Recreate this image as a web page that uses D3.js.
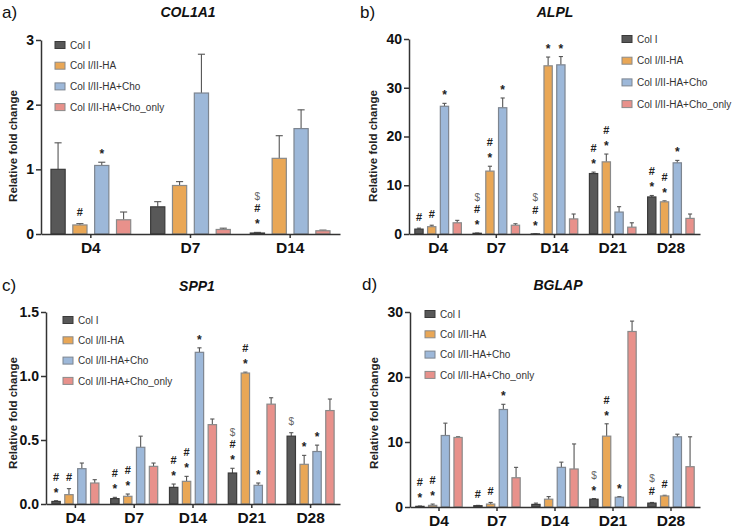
<html>
<head>
	<title>Gene expression</title>
	<meta charset="utf-8">
	<script src="https://d3js.org/d3.v7.min.js"></script>
	<style>
		body { margin: 0; background: #fff; }
		text { font-family: "Liberation Sans", Arial, sans-serif; }
	</style>
</head>
<body>
	<script type="text/javascript">
		var width = 735
		var height = 529

		// groups and colours
		var groups = ["Col I", "Col I/II-HA", "Col I/II-HA+Cho", "Col I/II-HA+Cho_only"]
		var fills = ["#585858", "#E9A756", "#9DB8D9", "#E8918B"]
		var strokes = ["#3a3a3a", "#8a8a8a", "#7d8590", "#8a8a8a"]

		var days3 = ["D4", "D7", "D14"]
		var days5 = ["D4", "D7", "D14", "D21", "D28"]

		// a) COL1A1  (one row per group, one value per day)
		var col1a1Mean = [[1.00, 0.42, 0.015], [0.14, 0.75, 1.17], [1.06, 2.18, 1.63], [0.22, 0.07, 0.05]]
		var col1a1Err  = [[0.41, 0.08, 0.01], [0.02, 0.06, 0.35], [0.05, 0.60, 0.29], [0.12, 0.02, 0.01]]
		var col1a1Ticks = [0, 1, 2, 3]
		var col1a1Notes = [[0, 1, "#"], [0, 2, "*"], [2, 0, "*#$"]]

		// b) ALPL
		var alplMean = [[1.0, 0.15, 0.02, 12.4, 7.6], [1.5, 12.9, 34.5, 14.8, 6.6], [26.2, 25.9, 34.7, 4.5, 14.6], [2.3, 1.8, 3.1, 1.4, 3.2]]
		var alplErr  = [[0.2, 0.05, 0.0, 0.3, 0.3], [0.3, 1.0, 1.8, 1.6, 0.2], [0.6, 2.0, 1.7, 1.1, 0.5], [0.5, 0.3, 1.0, 0.9, 0.9]]
		var alplTicks = [0, 10, 20, 30, 40]
		var alplNotes = [[0, 0, "#"], [0, 1, "#"], [0, 2, "*"], [1, 0, "*#$"], [1, 1, "*#"], [1, 2, "*"],
			[2, 0, "*#$"], [2, 1, "*"], [2, 2, "*"], [3, 0, "*#"], [3, 1, "*#"], [4, 0, "*#"], [4, 1, "*#"], [4, 2, "*"]]

		// c) SPP1
		var spp1Mean = [[0.02, 0.042, 0.13, 0.242, 0.53], [0.073, 0.06, 0.177, 1.023, 0.31], [0.276, 0.443, 1.185, 0.146, 0.41], [0.164, 0.294, 0.62, 0.78, 0.73]]
		var spp1Err  = [[0.006, 0.01, 0.026, 0.037, 0.027], [0.047, 0.018, 0.039, 0.007, 0.07], [0.044, 0.087, 0.035, 0.018, 0.05], [0.026, 0.026, 0.044, 0.05, 0.09]]
		var spp1Ticks = [0, 0.5, 1.0, 1.5]
		var spp1Notes = [[0, 0, "*#"], [0, 1, "#"], [1, 0, "*#"], [1, 1, "*#"], [2, 0, "*#"], [2, 1, "*#"], [2, 2, "*"],
			[3, 0, "*#$"], [3, 1, "*#"], [3, 2, "*"], [4, 0, "$"], [4, 1, "*"], [4, 2, "*"]]

		// d) BGLAP
		var bglapMean = [[0.1, 0.2, 0.4, 1.2, 0.6], [0.25, 0.45, 1.2, 10.9, 1.7], [11.0, 15.0, 6.1, 1.5, 10.8], [10.7, 4.5, 5.85, 27.0, 6.2]]
		var bglapErr  = [[0.05, 0.05, 0.2, 0.1, 0.1], [0.2, 0.25, 0.4, 1.9, 0.1], [1.9, 0.8, 0.8, 0.1, 0.4], [0.1, 1.6, 3.85, 1.6, 4.6]]
		var bglapTicks = [0, 10, 20, 30]
		var bglapNotes = [[0, 0, "*#"], [0, 1, "*#"], [1, 0, "#"], [1, 1, "#"], [1, 2, "*"],
			[3, 0, "*$"], [3, 1, "*#"], [3, 2, "*"], [4, 0, "#$"], [4, 1, "#"]]

		var svg = d3.select("body").append("svg")
		  .attr("width", width)
		  .attr("height", height)

		function panel(p)
		{
			var g = svg.append("g")

			var x = d3.scaleBand().domain(p.days).range([p.x0, p.x1]).paddingInner(0.2).paddingOuter(0.1)
			var xi = d3.scaleBand().domain(d3.range(groups.length)).range([0, x.bandwidth()]).paddingInner(0.35)
			var y = d3.scaleLinear().domain([0, p.ticks[p.ticks.length - 1]]).range([p.y0, p.y1])

			var rows = []
			groups.forEach(function(name, k) {
				p.days.forEach(function(d, i) {
					rows.push({k: k, day: d, v: p.mean[k][i], e: p.err[k][i]})
				})
			})

			// error bars (upper only)
			var eb = g.selectAll(".eb").data(rows).enter().append("g")
			eb.append("line")
				.attr("x1", d => x(d.day) + xi(d.k) + xi.bandwidth() / 2)
				.attr("x2", d => x(d.day) + xi(d.k) + xi.bandwidth() / 2)
				.attr("y1", d => y(d.v))
				.attr("y2", d => y(d.v + d.e))
				.attr("stroke", "#555").attr("stroke-width", 1.1)
			eb.append("line")
				.attr("x1", d => x(d.day) + xi(d.k) + xi.bandwidth() * 0.25)
				.attr("x2", d => x(d.day) + xi(d.k) + xi.bandwidth() * 0.75)
				.attr("y1", d => y(d.v + d.e))
				.attr("y2", d => y(d.v + d.e))
				.attr("stroke", "#555").attr("stroke-width", 1.1)

			g.selectAll(".bar").data(rows).enter().append("rect")
				.attr("x", d => x(d.day) + xi(d.k))
				.attr("width", xi.bandwidth())
				.attr("y", d => y(d.v))
				.attr("height", d => p.y0 - y(d.v))
				.attr("fill", d => fills[d.k])
				.attr("stroke", d => strokes[d.k])
				.attr("stroke-width", 1.2)

			// significance marks, stacked bottom to top
			var marks = []
			p.notes.forEach(function(n) {
				var top = y(p.mean[n[1]][n[0]] + p.err[n[1]][n[0]])
				n[2].split("").forEach(function(s, j) {
					marks.push({s: s, cx: x(p.days[n[0]]) + xi(n[1]) + xi.bandwidth() / 2, cy: top - 11.5 - 12.5 * j})
				})
			})
			g.selectAll(".mk").data(marks).enter().append("text")
				.attr("x", d => d.cx)
				.attr("y", d => d.s == "*" ? d.cy + 7.5 : d.cy + 4)
				.attr("text-anchor", "middle")
				.attr("font-size", d => d.s == "$" ? 10 : (d.s == "*" ? 12 : 11))
				.attr("font-weight", d => d.s == "$" ? "normal" : "bold")
				.attr("fill", d => d.s == "$" ? "#666" : "#222")
				.text(d => d.s)

			// axes
			var ya = g.append("g").attr("transform", "translate(" + p.x0 + ",0)")
				.call(d3.axisLeft(y).tickValues(p.ticks).tickSize(5).tickSizeOuter(0).tickPadding(2).tickFormat(p.fmt))
			var xa = g.append("g").attr("transform", "translate(0," + p.y0 + ")")
				.call(d3.axisBottom(x).tickSize(4).tickSizeOuter(0).tickPadding(4))
			;[ya, xa].forEach(function(a) {
				a.selectAll("path, line").attr("stroke", "#333").attr("stroke-width", 1.5)
				a.selectAll("text").attr("fill", "#111").attr("font-weight", "bold")
					.attr("font-family", "Liberation Sans, Arial, sans-serif")
			})
			ya.selectAll("text").attr("font-size", 14)
			xa.selectAll("text").attr("font-size", 15.5)

			g.append("text")
				.attr("transform", "translate(" + p.labX + "," + p.labY + ") rotate(-90)")
				.attr("text-anchor", "middle")
				.attr("font-size", 11.5).attr("font-weight", "bold").attr("fill", "#222")
				.text("Relative fold change")

			g.append("text").attr("x", p.titleX).attr("y", p.titleY)
				.attr("text-anchor", "middle")
				.attr("font-size", 14).attr("font-weight", "bold").attr("font-style", "italic").attr("fill", "#111")
				.text(p.title)

			g.append("text").attr("x", p.letterX).attr("y", p.letterY)
				.attr("font-size", 17).attr("fill", "#111")
				.text(p.letter)

			// legend
			var lg = g.selectAll(".lg").data(groups).enter().append("g")
				.attr("transform", (d, i) => "translate(" + p.legX + "," + (p.legY + i * p.legDy) + ")")
			lg.append("rect").attr("x", 0).attr("y", -3.5).attr("width", 10).attr("height", 7)
				.attr("fill", (d, i) => fills[i]).attr("stroke", (d, i) => strokes[i]).attr("stroke-width", 1)
			lg.append("text").attr("x", 15).attr("y", 3.6)
				.attr("font-size", 10).attr("fill", "#333")
				.text(d => d)
		}

		panel({days: days3, mean: col1a1Mean, err: col1a1Err, ticks: col1a1Ticks, notes: col1a1Notes, fmt: d3.format("d"),
			x0: 41, x1: 340, y0: 234, y1: 40, title: "COL1A1", titleX: 188, titleY: 17, letter: "a)", letterX: 2, letterY: 18,
			labX: 17, labY: 146, legX: 55, legY: 45, legDy: 20.7})
		panel({days: days5, mean: alplMean, err: alplErr, ticks: alplTicks, notes: alplNotes, fmt: d3.format("d"),
			x0: 409, x1: 700, y0: 234, y1: 39, title: "ALPL", titleX: 555, titleY: 17, letter: "b)", letterX: 360, letterY: 18,
			labX: 377, labY: 146, legX: 622, legY: 39, legDy: 21.7})
		panel({days: days5, mean: spp1Mean, err: spp1Err, ticks: spp1Ticks, notes: spp1Notes, fmt: d3.format(".1f"),
			x0: 46, x1: 340, y0: 504, y1: 312, title: "SPP1", titleX: 197, titleY: 291, letter: "c)", letterX: 2, letterY: 291,
			labX: 17, labY: 413, legX: 63, legY: 320, legDy: 20.3})
		panel({days: days5, mean: bglapMean, err: bglapErr, ticks: bglapTicks, notes: bglapNotes, fmt: d3.format("d"),
			x0: 410, x1: 700, y0: 507, y1: 312, title: "BGLAP", titleX: 558, titleY: 290, letter: "d)", letterX: 362, letterY: 290,
			labX: 378, labY: 413, legX: 425, legY: 314, legDy: 20.3})
	</script>
</body>
</html>
